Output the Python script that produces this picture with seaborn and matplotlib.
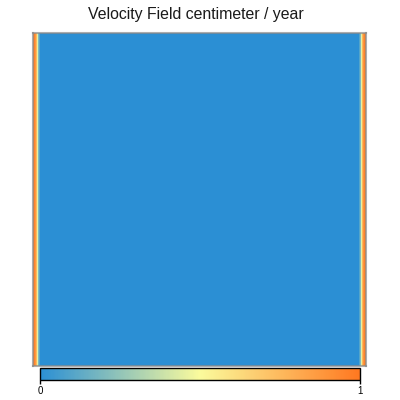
"""Velocity field heatmap with a horizontal colour bar."""

import numpy as np
import matplotlib
matplotlib.use("Agg")
import matplotlib.pyplot as plt
from matplotlib.colors import LinearSegmentedColormap
import seaborn as sns

# velocity per column across the channel, flat along y
edge_left = [0.95, 0.95, 0.88, 0.75, 0.45, 0.2, 0.1]
middle_value = 0.0
n_middle = 319
edge_right = [0.1, 0.2, 0.45, 0.75, 0.88, 0.95, 0.95]
n_rows = 20
cbar_ticks = [0, 1]
title = "Velocity Field centimeter / year"

cmap_colors = ["#2b8fd4", "#fbfb9c", "#ff7820"]


def main():
    sns.set_theme(style="white")
    plt.rcParams["font.family"] = ["Liberation Sans", "DejaVu Sans"]

    profile = np.array(edge_left + [middle_value] * n_middle + edge_right)
    field = np.tile(profile, (n_rows, 1))
    cmap = LinearSegmentedColormap.from_list("velocity", cmap_colors)

    fig = plt.figure(figsize=(4, 4), dpi=100)
    ax = fig.add_axes([33 / 400, 1 - 366 / 400, 333 / 400, 333 / 400])
    cax = fig.add_axes([40 / 400, 1 - 380 / 400, 320 / 400, 12 / 400])

    sns.heatmap(field, cmap=cmap, vmin=0, vmax=1, ax=ax, cbar_ax=cax,
                cbar_kws={"orientation": "horizontal", "ticks": cbar_ticks},
                xticklabels=False, yticklabels=False, rasterized=True)

    for spine in ax.spines.values():
        spine.set_visible(True)
        spine.set_color("#8a8a8a")
        spine.set_alpha(0.7)
        spine.set_linewidth(1.5)

    cbar = ax.collections[0].colorbar
    cbar.outline.set_visible(True)
    cbar.outline.set_edgecolor("black")
    cbar.outline.set_linewidth(1.0)
    cax.tick_params(axis="x", length=3, width=1, color="black", pad=1.5,
                    labelsize=7, bottom=True, labelcolor="black")

    fig.text(0.5 - 4 / 400, 1 - 14.5 / 400, title, ha="center", va="center",
             fontsize=11.4, color="#1a1a1a")
    fig.savefig("out.png", dpi=100)
    plt.close(fig)


if __name__ == "__main__":
    main()
